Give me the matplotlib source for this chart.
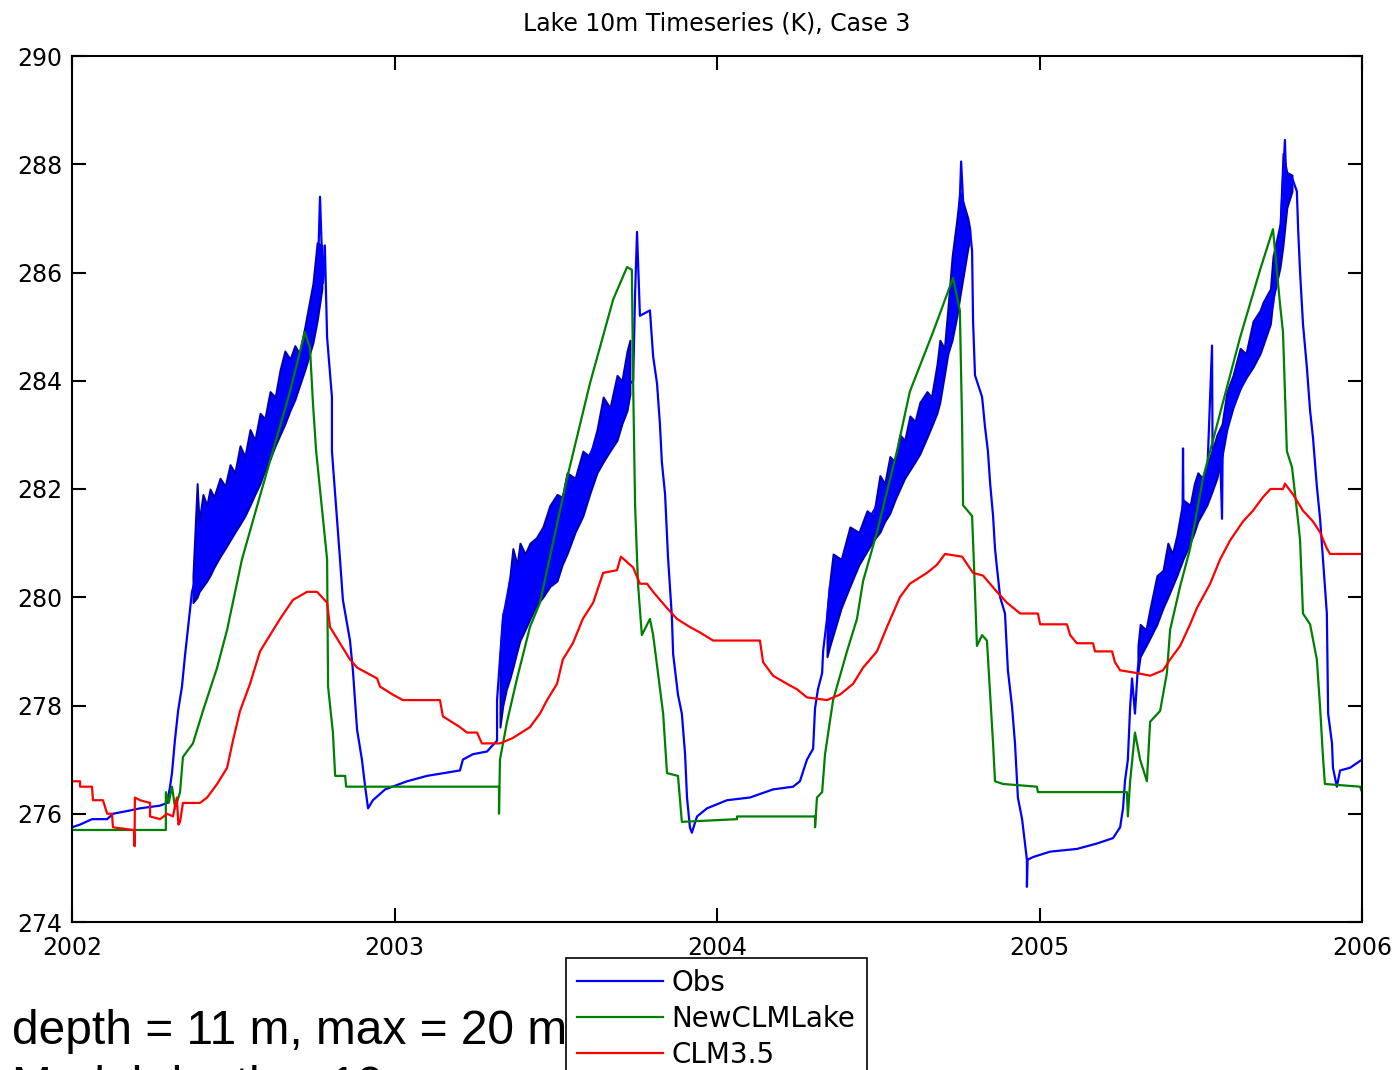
import matplotlib
matplotlib.use("Agg")
import matplotlib.pyplot as plt

# NewCLMLake (green)
new_t = [2002.000, 2002.291, 2002.291, 2002.300, 2002.310, 2002.320, 2002.335, 2002.344,
         2002.375, 2002.406, 2002.450, 2002.481, 2002.527, 2002.589, 2002.676, 2002.722,
         2002.738, 2002.747, 2002.757, 2002.791, 2002.794, 2002.809, 2002.816, 2002.847,
         2002.850, 2003.324, 2003.324, 2003.327, 2003.349, 2003.380, 2003.420, 2003.451,
         2003.535, 2003.606, 2003.678, 2003.721, 2003.736, 2003.740, 2003.746, 2003.755,
         2003.767, 2003.792, 2003.802, 2003.817, 2003.833, 2003.845, 2003.879, 2003.891,
         2004.062, 2004.062, 2004.304, 2004.304, 2004.310, 2004.326, 2004.335, 2004.360,
         2004.403, 2004.434, 2004.453, 2004.496, 2004.558, 2004.598, 2004.670, 2004.732,
         2004.753, 2004.760, 2004.763, 2004.791, 2004.800, 2004.806, 2004.822, 2004.837,
         2004.847, 2004.856, 2004.862, 2004.887, 2004.992, 2004.995, 2005.271, 2005.274,
         2005.281, 2005.296, 2005.312, 2005.333, 2005.343, 2005.374, 2005.395, 2005.405,
         2005.436, 2005.467, 2005.507, 2005.529, 2005.622, 2005.684, 2005.724, 2005.746,
         2005.755, 2005.767, 2005.783, 2005.802, 2005.808, 2005.817, 2005.839, 2005.860,
         2005.870, 2005.879, 2005.885, 2005.994, 2006.000]
new_k = [275.70, 275.70, 276.40, 276.20, 276.50, 276.10, 276.40, 277.05,
         277.30, 277.90, 278.70, 279.40, 280.70, 282.00, 283.80, 284.90,
         284.60, 283.60, 282.70, 280.70, 278.35, 277.50, 276.70, 276.70,
         276.50, 276.50, 276.00, 277.00, 277.70, 278.50, 279.45, 279.90,
         282.20, 283.95, 285.50, 286.10, 286.05, 283.95, 281.70, 280.25,
         279.30, 279.60, 279.30, 278.60, 277.85, 276.75, 276.70, 275.85,
         275.90, 275.95, 275.95, 275.75, 276.30, 276.40, 277.10, 278.10,
         279.00, 279.60, 280.30, 281.20, 282.70, 283.80, 284.90, 285.90,
         285.30, 283.20, 281.70, 281.50, 280.10, 279.10, 279.30, 279.20,
         278.20, 277.30, 276.60, 276.55, 276.50, 276.40, 276.40, 275.95,
         276.60, 277.50, 277.00, 276.60, 277.70, 277.90, 278.60, 279.40,
         280.20, 280.90, 282.20, 282.70, 284.80, 286.05, 286.80, 285.40,
         284.90, 282.70, 282.40, 281.40, 281.05, 279.70, 279.50, 278.85,
         277.97, 277.05, 276.55, 276.50, 276.40]

# CLM3.5 (red)
clm_t = [2002.000, 2002.025, 2002.025, 2002.062, 2002.065, 2002.096, 2002.109, 2002.124,
         2002.127, 2002.189, 2002.192, 2002.194, 2002.195, 2002.211, 2002.242, 2002.242,
         2002.273, 2002.295, 2002.313, 2002.325, 2002.330, 2002.335, 2002.344, 2002.397,
         2002.419, 2002.450, 2002.481, 2002.499, 2002.521, 2002.552, 2002.583, 2002.614,
         2002.645, 2002.685, 2002.729, 2002.760, 2002.791, 2002.800, 2002.831, 2002.862,
         2002.884, 2002.946, 2002.955, 2002.995, 2003.026, 2003.141, 2003.150, 2003.203,
         2003.225, 2003.256, 2003.271, 2003.327, 2003.367, 2003.420, 2003.451, 2003.473,
         2003.504, 2003.522, 2003.553, 2003.584, 2003.616, 2003.647, 2003.690, 2003.702,
         2003.740, 2003.761, 2003.783, 2003.802, 2003.845, 2003.876, 2003.916, 2003.947,
         2003.988, 2004.133, 2004.143, 2004.174, 2004.217, 2004.248, 2004.279, 2004.341,
         2004.381, 2004.422, 2004.453, 2004.496, 2004.527, 2004.567, 2004.598, 2004.651,
         2004.682, 2004.707, 2004.760, 2004.794, 2004.825, 2004.868, 2004.899, 2004.940,
         2004.995, 2005.002, 2005.085, 2005.095, 2005.116, 2005.166, 2005.172, 2005.225,
         2005.234, 2005.250, 2005.302, 2005.343, 2005.383, 2005.405, 2005.436, 2005.467,
         2005.488, 2005.529, 2005.560, 2005.591, 2005.631, 2005.662, 2005.693, 2005.716,
         2005.755, 2005.761, 2005.786, 2005.817, 2005.848, 2005.870, 2005.891, 2005.901,
         2006.000]
clm_k = [276.60, 276.60, 276.50, 276.50, 276.25, 276.25, 276.00, 276.00,
         275.75, 275.70, 275.70, 275.40, 276.30, 276.25, 276.20, 275.95,
         275.90, 276.00, 275.95, 276.30, 275.80, 275.85, 276.20, 276.20,
         276.30, 276.55, 276.85, 277.35, 277.90, 278.40, 279.00, 279.30,
         279.60, 279.95, 280.10, 280.10, 279.90, 279.45, 279.15, 278.85,
         278.70, 278.50, 278.35, 278.20, 278.10, 278.10, 277.80, 277.60,
         277.50, 277.50, 277.30, 277.30, 277.40, 277.60, 277.85, 278.10,
         278.40, 278.85, 279.15, 279.60, 279.90, 280.45, 280.50, 280.75,
         280.55, 280.25, 280.25, 280.10, 279.80, 279.60, 279.45, 279.35,
         279.20, 279.20, 278.80, 278.55, 278.40, 278.30, 278.15, 278.10,
         278.20, 278.40, 278.70, 279.00, 279.45, 280.00, 280.25, 280.45,
         280.60, 280.80, 280.75, 280.45, 280.40, 280.10, 279.90, 279.70,
         279.70, 279.50, 279.50, 279.30, 279.15, 279.15, 279.00, 279.00,
         278.80, 278.65, 278.60, 278.55, 278.65, 278.85, 279.10, 279.50,
         279.80, 280.25, 280.70, 281.05, 281.40, 281.60, 281.85, 282.00,
         282.00, 282.10, 281.90, 281.60, 281.40, 281.20, 280.90, 280.80,
         280.80]

# Obs (blue), main trace
obs_t = [2002.000, 2002.025, 2002.062, 2002.109, 2002.127, 2002.171, 2002.211, 2002.273,
         2002.295, 2002.304, 2002.310, 2002.319, 2002.329, 2002.341, 2002.350, 2002.360,
         2002.372, 2002.388, 2002.443, 2002.536, 2002.629, 2002.713, 2002.760, 2002.769,
         2002.778, 2002.784, 2002.791, 2002.806, 2002.806, 2002.831, 2002.840, 2002.862,
         2002.871, 2002.884, 2002.899, 2002.909, 2002.918, 2002.933, 2002.971, 2003.039,
         2003.101, 2003.203, 2003.212, 2003.243, 2003.287, 2003.302, 2003.318, 2003.318,
         2003.327, 2003.336, 2003.358, 2003.451, 2003.535, 2003.628, 2003.721, 2003.740,
         2003.746, 2003.752, 2003.761, 2003.792, 2003.802, 2003.814, 2003.823, 2003.829,
         2003.839, 2003.848, 2003.860, 2003.864, 2003.879, 2003.891, 2003.901, 2003.907,
         2003.916, 2003.922, 2003.938, 2003.969, 2004.031, 2004.102, 2004.174, 2004.236,
         2004.257, 2004.279, 2004.298, 2004.304, 2004.313, 2004.326, 2004.329, 2004.341,
         2004.350, 2004.496, 2004.567, 2004.629, 2004.691, 2004.729, 2004.747, 2004.757,
         2004.769, 2004.784, 2004.791, 2004.794, 2004.800, 2004.822, 2004.831, 2004.840,
         2004.847, 2004.856, 2004.862, 2004.868, 2004.878, 2004.893, 2004.902, 2004.915,
         2004.924, 2004.933, 2004.946, 2004.955, 2004.961, 2004.961, 2004.963, 2004.980,
         2005.033, 2005.116, 2005.178, 2005.228, 2005.250, 2005.259, 2005.265, 2005.274,
         2005.281, 2005.287, 2005.296, 2005.305, 2005.312, 2005.426, 2005.443, 2005.445,
         2005.447, 2005.519, 2005.535, 2005.537, 2005.560, 2005.566, 2005.568, 2005.591,
         2005.684, 2005.724, 2005.746, 2005.761, 2005.767, 2005.783, 2005.798, 2005.802,
         2005.808, 2005.817, 2005.829, 2005.839, 2005.848, 2005.860, 2005.870, 2005.891,
         2005.895, 2005.907, 2005.910, 2005.922, 2005.932, 2005.963, 2006.000]
obs_k = [275.75, 275.80, 275.90, 275.90, 276.00, 276.05, 276.10, 276.15,
         276.20, 276.50, 276.75, 277.35, 277.90, 278.35, 278.90, 279.45,
         280.10, 280.45, 281.30, 282.20, 283.20, 284.20, 285.50, 287.40,
         285.80, 286.50, 284.80, 283.70, 282.70, 280.70, 279.95, 279.20,
         278.65, 277.55, 277.00, 276.50, 276.10, 276.25, 276.45, 276.60,
         276.70, 276.80, 277.00, 277.10, 277.15, 277.25, 277.35, 278.10,
         278.85, 279.60, 280.30, 281.10, 281.80, 282.90, 283.90, 284.00,
         285.60, 286.75, 285.20, 285.30, 284.45, 283.95, 283.20, 282.50,
         281.90, 280.75, 279.65, 278.95, 278.20, 277.85, 277.10, 276.30,
         275.75, 275.65, 275.95, 276.10, 276.25, 276.30, 276.45, 276.50,
         276.60, 277.00, 277.20, 277.95, 278.30, 278.60, 279.00, 279.60,
         280.20, 281.70, 282.40, 283.10, 283.90, 284.90, 286.30, 288.05,
         286.60, 286.80, 286.40, 285.10, 284.10, 283.70, 283.15, 282.70,
         282.10, 281.50, 280.90, 280.55, 280.00, 279.70, 278.65, 277.97,
         277.30, 276.30, 275.90, 275.45, 275.15, 274.65, 275.15, 275.20,
         275.30, 275.35, 275.45, 275.55, 275.75, 276.10, 276.60, 277.00,
         277.97, 278.50, 277.85, 278.70, 278.95, 280.60, 281.00, 282.75,
         281.10, 282.10, 284.65, 282.20, 282.70, 281.45, 282.80, 283.40,
         284.70, 285.40, 286.60, 288.45, 287.30, 287.75, 287.50, 286.80,
         286.00, 285.05, 284.25, 283.45, 282.95, 282.05, 281.45, 279.70,
         277.85, 277.30, 276.85, 276.50, 276.80, 276.85, 277.00]

# Obs high-frequency spread (lower / upper envelope) during each warming season
band02_t = [2002.375, 2002.388, 2002.394, 2002.406, 2002.418, 2002.428, 2002.440, 2002.459,
            2002.475, 2002.490, 2002.505, 2002.521, 2002.536, 2002.552, 2002.567, 2002.583,
            2002.598, 2002.614, 2002.630, 2002.645, 2002.660, 2002.676, 2002.691, 2002.705,
            2002.722, 2002.747, 2002.760, 2002.775]
band02_lo = [279.9, 280.0, 280.1, 280.2, 280.3, 280.4, 280.55, 280.75,
             280.9, 281.05, 281.2, 281.35, 281.5, 281.7, 281.9, 282.1,
             282.35, 282.55, 282.8, 283.0, 283.2, 283.45, 283.65, 283.9,
             284.2, 284.7, 285.1, 285.7]
band02_hi = [280.4, 282.1, 281.4, 281.9, 281.7, 282.0, 281.85, 282.2,
             282.05, 282.45, 282.3, 282.8, 282.6, 283.1, 282.9, 283.4,
             283.3, 283.8, 283.7, 284.2, 284.55, 284.4, 284.65, 284.5,
             285.0, 285.8, 286.55, 286.5]

band03_t = [2003.327, 2003.336, 2003.347, 2003.358, 2003.367, 2003.380, 2003.389, 2003.405,
            2003.420, 2003.440, 2003.460, 2003.482, 2003.504, 2003.520, 2003.535, 2003.560,
            2003.584, 2003.605, 2003.628, 2003.647, 2003.668, 2003.690, 2003.705, 2003.721,
            2003.730]
band03_lo = [277.6, 278.0, 278.3, 278.5, 278.7, 279.0, 279.2, 279.4,
             279.6, 279.85, 280.0, 280.2, 280.3, 280.6, 280.8, 281.2,
             281.5, 281.9, 282.3, 282.5, 282.7, 282.9, 283.2, 283.45,
             283.75]
band03_hi = [278.9, 279.7, 279.9, 280.4, 280.9, 280.6, 281.0, 280.8,
             281.0, 281.1, 281.3, 281.7, 281.9, 281.85, 282.3, 282.2,
             282.7, 282.6, 283.1, 283.7, 283.5, 284.1, 284.0, 284.55,
             284.75]

band04_t = [2004.341, 2004.350, 2004.360, 2004.385, 2004.412, 2004.440, 2004.465, 2004.485,
            2004.505, 2004.520, 2004.536, 2004.552, 2004.567, 2004.582, 2004.598, 2004.614,
            2004.629, 2004.651, 2004.665, 2004.682, 2004.691, 2004.705, 2004.716, 2004.729,
            2004.744, 2004.753, 2004.778, 2004.784]
band04_lo = [278.9, 279.1, 279.3, 279.8, 280.2, 280.6, 280.85, 281.05,
             281.2, 281.4, 281.55, 281.8, 282.0, 282.2, 282.35, 282.5,
             282.65, 282.95, 283.15, 283.4, 283.6, 284.1, 284.5, 284.75,
             285.2, 285.55, 286.45, 286.6]
band04_hi = [279.7, 280.3, 280.8, 280.7, 281.3, 281.2, 281.6, 281.5,
             282.25, 282.1, 282.6, 282.5, 283.0, 282.9, 283.35, 283.25,
             283.6, 283.8, 283.7, 284.3, 284.75, 284.6, 285.35, 286.3,
             287.0, 287.5, 287.0, 286.8]

band05_t = [2005.305, 2005.312, 2005.330, 2005.343, 2005.364, 2005.383, 2005.398, 2005.412,
            2005.426, 2005.445, 2005.467, 2005.480, 2005.491, 2005.505, 2005.519, 2005.535,
            2005.550, 2005.566, 2005.581, 2005.600, 2005.622, 2005.640, 2005.662, 2005.684,
            2005.693, 2005.716, 2005.724, 2005.746, 2005.755, 2005.767, 2005.783]
band05_lo = [278.6, 278.9, 279.1, 279.25, 279.5, 279.8, 280.0, 280.2,
             280.4, 280.7, 281.0, 281.2, 281.4, 281.55, 281.7, 281.95,
             282.2, 282.6, 283.1, 283.5, 283.85, 284.05, 284.25, 284.5,
             284.65, 285.05, 285.5, 286.1, 286.5, 287.2, 287.5]
band05_hi = [279.1, 279.5, 279.4, 279.8, 280.4, 280.5, 281.0, 280.8,
             281.15, 281.8, 281.7, 282.1, 282.3, 282.2, 282.45, 282.7,
             283.0, 283.2, 283.8, 284.1, 284.6, 284.5, 285.1, 285.3,
             285.45, 285.7, 286.3, 286.9, 288.2, 287.85, 287.8]

year_ticks = [2002, 2003, 2004, 2005, 2006]
temp_ticks = [274, 276, 278, 280, 282, 284, 286, 288, 290]

fig = plt.figure(figsize=(13.97, 10.70), dpi=100)
ax = fig.add_axes([72 / 1397, 1 - 922 / 1070, 1290 / 1397, 866 / 1070])

for bt, blo, bhi in [(band02_t, band02_lo, band02_hi), (band03_t, band03_lo, band03_hi),
                     (band04_t, band04_lo, band04_hi), (band05_t, band05_lo, band05_hi)]:
    ax.fill_between(bt, blo, bhi, color='blue', lw=1.4, edgecolor='#0000b0')

l_obs, = ax.plot(obs_t, obs_k, color='blue', lw=1.6, label='Obs')
l_new, = ax.plot(new_t, new_k, color='#008000', lw=1.6, label='NewCLMLake')
l_clm, = ax.plot(clm_t, clm_k, color='red', lw=1.6, label='CLM3.5')

ax.set_xlim(2002, 2006)
ax.set_ylim(274, 290)
ax.set_xticks(year_ticks)
ax.set_xticklabels([str(y) for y in year_ticks])
ax.set_yticks(temp_ticks)
ax.tick_params(direction='in', length=10, width=1.5, top=True, right=True,
               labelsize=17)
ax.tick_params(axis='x', pad=10)
ax.tick_params(axis='y', pad=7)
for s in ax.spines.values():
    s.set_linewidth(1.5)
ax.set_title('Lake 10m Timeseries (K), Case 3', fontsize=17, pad=18)

# annotation lines below the plot (the second one runs off the bottom edge)
fig.text(12 / 1397, 1 - 1044 / 1070, 'depth = 11 m, max = 20 m',
         family='Liberation Sans', fontsize=34.5, va='baseline')
fig.text(12 / 1397, 1 - 1100 / 1070, 'Model depth = 10 m',
         family='Liberation Sans', fontsize=34.5, va='baseline')

leg = fig.legend(handles=[l_obs, l_new, l_clm], loc='upper left',
                 bbox_to_anchor=(566 / 1397, 1 - 958 / 1070), fontsize=20,
                 frameon=True, fancybox=False, edgecolor='black', framealpha=1,
                 borderpad=0.4, labelspacing=0.28, handlelength=3.1,
                 handletextpad=0.3, borderaxespad=0)
leg.get_frame().set_linewidth(1.2)

fig.savefig('out.png', dpi=100)
